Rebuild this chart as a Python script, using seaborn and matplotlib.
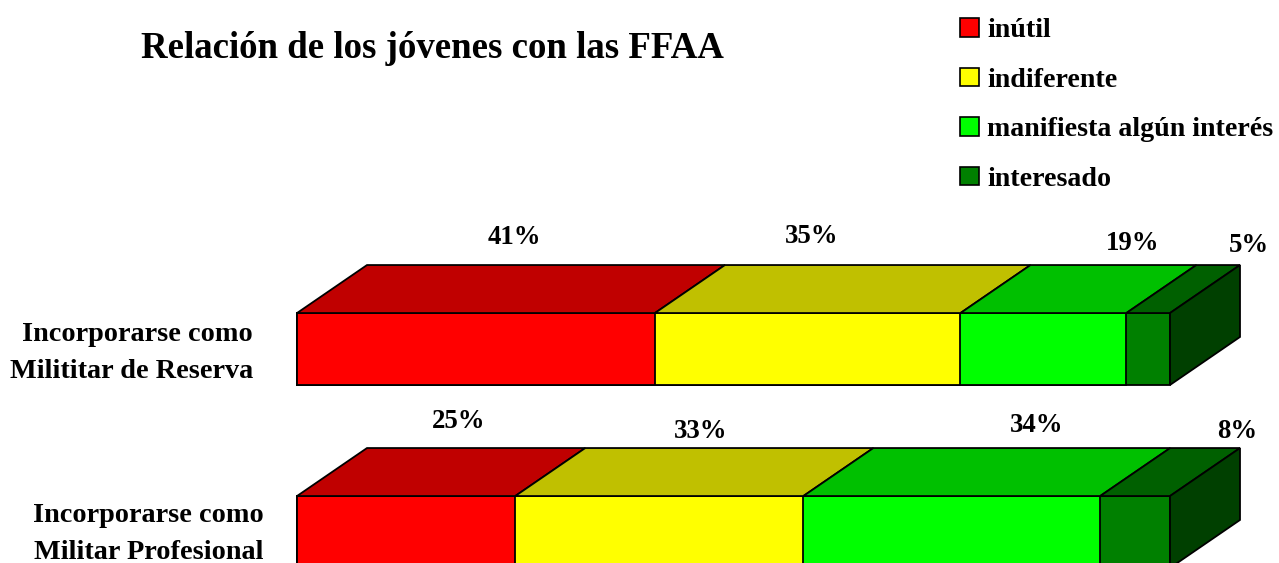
import matplotlib
matplotlib.use('Agg')
import matplotlib.pyplot as plt
from matplotlib.patches import Polygon, Patch
import numpy as np
import pandas as pd
import seaborn as sns

sns.set_theme(style="white")
plt.rcParams['font.family'] = ['Liberation Serif', 'DejaVu Serif']
plt.rcParams['font.weight'] = 'bold'

# datos
filas = ['Incorporarse como\nMilititar de Reserva', 'Incorporarse como\nMilitar Profesional']
niveles = ['inútil', 'indiferente', 'manifiesta algún interés', 'interesado']
reserva = [41, 35, 19, 5]
profesional = [25, 33, 34, 8]

# colores: frente, tapa, lado
frente = ['#FF0000', '#FFFF00', '#00FF00', '#008000']
tapa = ['#C00000', '#C0C000', '#00C000', '#006000']
lado = '#004000'

W, H = 1279, 563
fig = plt.figure(figsize=(W / 100, H / 100), dpi=100)
ax = fig.add_axes([0, 0, 1, 1])

acum = np.cumsum([reserva, profesional], axis=1)
# de atras hacia adelante, cada barra tapa a la siguiente
for j in range(3, -1, -1):
    df = pd.DataFrame({'fila': filas, 'acum': acum[:, j]})
    sns.barplot(data=df, x='acum', y='fila', order=filas, color=frente[j], saturation=1,
                width=0.393, edgecolor='black', linewidth=1.3, ax=ax)

ax.set_xlim(-297 / 8.73, (W - 297) / 8.73)
ax.set_ylim((H - 349) / 183, -349 / 183)
ax.axis('off')

# efecto 3D
dx, dy = 70 / 8.73, 48 / 183
alto = 0.393 / 2
for i in range(2):
    inicio = 0
    for j in range(4):
        fin = acum[i, j]
        y0 = i - alto
        ax.add_patch(Polygon([(inicio, y0), (fin, y0), (fin + dx, y0 - dy), (inicio + dx, y0 - dy)],
                             closed=True, fc=tapa[j], ec='black', lw=1.3))
        inicio = fin
    ax.add_patch(Polygon([(100, i - alto), (100 + dx, i - alto - dy), (100 + dx, i + alto - dy), (100, i + alto)],
                         closed=True, fc=lado, ec='black', lw=1.3))


def texto(x, y, s, size, **kw):
    fig.text(x / W, 1 - y / H, s, fontsize=size, fontweight='bold', color='black',
             ha=kw.pop('ha', 'center'), va='center', **kw)


etiq_x = [[514, 812, 1133, 1249], [459, 701, 1037, 1237]]
etiq_y = [[237, 236, 243, 245], [421, 431, 426, 431]]
for i, vals in enumerate([reserva, profesional]):
    for j, v in enumerate(vals):
        texto(etiq_x[i][j], etiq_y[i][j], f'{v}%', 19.3)

texto(253, 353, filas[0], 20.3, ha='right', multialignment='right', linespacing=1.58)
texto(264, 534, filas[1], 20.3, ha='right', multialignment='right', linespacing=1.58)
texto(432, 49, 'Relación de los jóvenes con las FFAA', 26.6)

handles = [Patch(fc=c, ec='black', lw=1.2) for c in frente]
leg = fig.legend(handles, niveles, loc='upper left', bbox_to_anchor=(960 / W, 1 - 18 / H),
                 bbox_transform=fig.transFigure, frameon=False, fontsize=20.2, labelcolor='black',
                 handlelength=0.675, handleheight=0.64, handletextpad=0.3,
                 labelspacing=0.87, borderpad=0, borderaxespad=0)

fig.savefig('out.png', dpi=100)
